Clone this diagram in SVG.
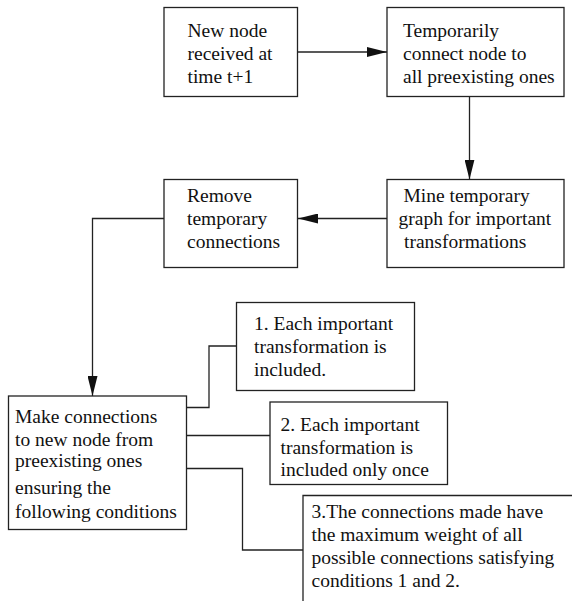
<svg xmlns="http://www.w3.org/2000/svg" width="572" height="601" viewBox="0 0 572 601">
  <style>
    .box { fill: #ffffff; stroke: #222222; stroke-width: 1.3; }
    .edge { fill: none; stroke: #222222; stroke-width: 1.3; }
  </style>
  <defs>
    <marker id="arrow" viewBox="0 0 20 10" refX="20" refY="5" markerWidth="20" markerHeight="10" markerUnits="userSpaceOnUse" orient="auto">
      <path d="M0,0 L20,5 L0,10 Z" fill="#111111"/>
    </marker>
  </defs>
  <rect width="572" height="601" fill="#ffffff"/>

  <g id="connectors">
    <line class="edge" x1="298" y1="52" x2="387" y2="52" marker-end="url(#arrow)"/>
    <line class="edge" x1="469.5" y1="96.5" x2="469.5" y2="179.5" marker-end="url(#arrow)"/>
    <line class="edge" x1="387" y1="218.5" x2="298" y2="218.5" marker-end="url(#arrow)"/>
    <polyline class="edge" points="164,218.5 92.5,218.5 92.5,396" marker-end="url(#arrow)"/>
    <polyline class="edge" points="187,407.5 209,407.5 209,346 236.5,346"/>
    <line class="edge" x1="187" y1="435.5" x2="270" y2="435.5"/>
    <polyline class="edge" points="187,468.5 242.5,468.5 242.5,550 303,550"/>
  </g>

  <g font-family="Liberation Serif" font-size="19.5" fill="#111111">
    <g id="node-new">
      <rect class="box" x="164" y="7.5" width="133.5" height="89"/>
      <text x="187.5" y="37">New node</text>
      <text x="187.5" y="60">received at</text>
      <text x="187.5" y="83">time t+1</text>
    </g>

    <g id="node-temp-connect">
      <rect class="box" x="387" y="7.5" width="177" height="89"/>
      <text x="403" y="37">Temporarily</text>
      <text x="403" y="60">connect node to</text>
      <text x="403" y="83">all preexisting ones</text>
    </g>

    <g id="node-mine">
      <rect class="box" x="387" y="179.5" width="177" height="88"/>
      <text x="403.5" y="202">Mine temporary</text>
      <text x="398.5" y="225">graph for important</text>
      <text x="404" y="248">transformations</text>
    </g>

    <g id="node-remove">
      <rect class="box" x="164" y="179.5" width="133.5" height="88"/>
      <text x="187" y="202">Remove</text>
      <text x="187" y="225">temporary</text>
      <text x="187" y="248">connections</text>
    </g>

    <g id="node-make">
      <rect class="box" x="8.5" y="396" width="178" height="133.5"/>
      <text x="15" y="423">Make connections</text>
      <text x="15" y="445.5">to new node from</text>
      <text x="15" y="467">preexisting ones</text>
      <text x="15" y="494">ensuring the</text>
      <text x="15" y="517.5">following conditions</text>
    </g>

    <g id="cond-1">
      <rect class="box" x="236.5" y="302.5" width="178" height="88"/>
      <text x="254" y="330">1. Each important</text>
      <text x="254" y="353">transformation is</text>
      <text x="254" y="376">included.</text>
    </g>

    <g id="cond-2">
      <rect class="box" x="270" y="402" width="177.5" height="82.5"/>
      <text x="280.5" y="431">2. Each important</text>
      <text x="280.5" y="454">transformation is</text>
      <text x="280.5" y="476">included only once</text>
    </g>

    <g id="cond-3">
      <polyline class="edge" points="303,601 303,495.5 572,495.5"/>
      <text x="311.5" y="518">3.The connections made have</text>
      <text x="311.5" y="541">the maximum weight of all</text>
      <text x="311.5" y="564">possible connections satisfying</text>
      <text x="311.5" y="587">conditions 1 and 2.</text>
    </g>
  </g>
</svg>
